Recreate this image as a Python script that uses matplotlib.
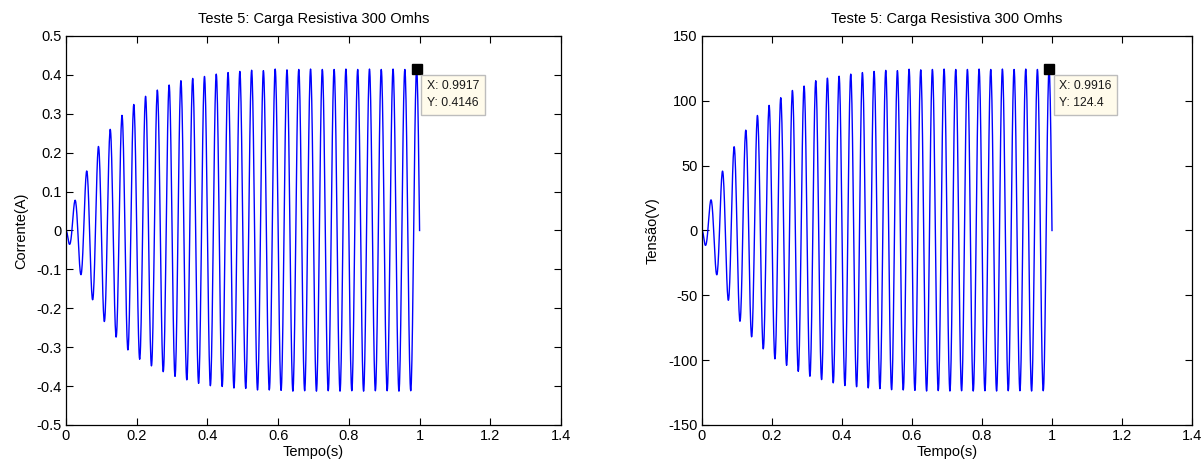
import numpy as np
import matplotlib
matplotlib.use("Agg")
import matplotlib.pyplot as plt

plt.rcParams['font.family'] = ['Liberation Sans', 'DejaVu Sans']

# Sampling of the acquisition (30 Hz waveform, 1200 samples/s)
fs = 1200.0
freq = 30.0
t_end = 1.0

# Half-cycle extrema of the current (A): troughs at (4j+1)/120 s, peaks at (4j+3)/120 s
current_troughs = [-0.033, -0.113, -0.178, -0.234, -0.274, -0.307, -0.331, -0.348,
                   -0.363, -0.375, -0.384, -0.393, -0.399, -0.401, -0.405, -0.406,
                   -0.410, -0.410, -0.411, -0.413, -0.412, -0.413, -0.412, -0.413,
                   -0.412, -0.413, -0.412, -0.412, -0.413, -0.412]
current_peaks = [0.077, 0.153, 0.216, 0.260, 0.296, 0.324, 0.345, 0.361,
                 0.374, 0.385, 0.391, 0.396, 0.402, 0.406, 0.409, 0.412,
                 0.411, 0.415, 0.413, 0.414, 0.415, 0.414, 0.414, 0.415,
                 0.414, 0.415, 0.414, 0.415, 0.414, 0.4146]

# Half-cycle extrema of the voltage (V)
voltage_troughs = [-10.8, -34.0, -53.8, -70.0, -82.0, -91.3, -99.0, -104.0,
                   -108.6, -112.4, -115.0, -117.5, -119.6, -120.5, -121.4, -122.0,
                   -122.8, -123.0, -123.3, -123.8, -123.5, -123.8, -123.6, -123.8,
                   -123.6, -123.8, -123.6, -123.6, -123.8, -123.6]
voltage_peaks = [23.4, 45.8, 64.6, 77.4, 88.7, 96.5, 102.4, 108.0,
                 111.4, 115.5, 117.5, 119.0, 120.6, 121.8, 122.7, 123.5,
                 123.3, 124.4, 123.9, 124.2, 124.5, 124.2, 124.2, 124.5,
                 124.2, 124.5, 124.2, 124.5, 124.2, 124.4]

# Data tips
tip_current = (0.9917, 0.4146)
tip_voltage = (0.9916, 124.4)

title = "Teste 5: Carga Resistiva 300 Omhs"
xticks = [0, 0.2, 0.4, 0.6, 0.8, 1, 1.2, 1.4]
xtick_labels = ["0", "0.2", "0.4", "0.6", "0.8", "1", "1.2", "1.4"]
current_yticks = [-0.5, -0.4, -0.3, -0.2, -0.1, 0, 0.1, 0.2, 0.3, 0.4, 0.5]
voltage_yticks = [-150, -100, -50, 0, 50, 100, 150]


def waveform(troughs, peaks):
    """Sampled sinusoid whose half-cycle extrema follow the given values."""
    t = np.arange(0, int(round(t_end * fs)) + 1) / fs
    n = len(troughs)
    t_ext = np.empty(2 * n)
    mag = np.empty(2 * n)
    t_ext[0::2] = (4 * np.arange(n) + 1) / (4 * freq)
    t_ext[1::2] = (4 * np.arange(n) + 3) / (4 * freq)
    mag[0::2] = np.abs(troughs)
    mag[1::2] = np.abs(peaks)
    env = np.interp(t, np.concatenate([[0.0], t_ext]), np.concatenate([[0.0], mag]))
    return t, -env * np.sin(2 * np.pi * freq * t)


fig = plt.figure(figsize=(12.03, 4.65), dpi=100)
fig.patch.set_facecolor("white")

ax1 = fig.add_axes([66 / 1203, 1 - 425 / 465, 495 / 1203, 389 / 465])
ax2 = fig.add_axes([702 / 1203, 1 - 425 / 465, 490 / 1203, 389 / 465])

panels = [
    (ax1, current_troughs, current_peaks, tip_current, (-0.5, 0.5), current_yticks,
     "Corrente(A)"),
    (ax2, voltage_troughs, voltage_peaks, tip_voltage, (-150, 150), voltage_yticks,
     "Tensão(V)"),
]

for ax, tr, pk, tip, ylim, yt, ylabel in panels:
    t, y = waveform(tr, pk)
    ax.plot(t, y, color=(0, 0, 1), lw=1.0)
    ax.set_xlim(0, 1.4)
    ax.set_ylim(*ylim)
    ax.set_xticks(xticks)
    ax.set_xticklabels(xtick_labels)
    ax.set_yticks(yt)
    ax.set_yticklabels([f"{v:g}" for v in yt])
    ax.tick_params(direction="in", length=5, width=0.8, top=True, right=True,
                   labelsize=10.5, pad=3, colors="black")
    for s in ax.spines.values():
        s.set_linewidth(0.9)
    ax.set_title(title, fontsize=10.5, pad=9)
    ax.set_xlabel("Tempo(s)", fontsize=10.5, labelpad=1)
    ax.set_ylabel(ylabel, fontsize=10.5, labelpad=6)

    # data tip
    ax.plot([tip[0]], [tip[1]], marker="s", ms=6.5, color="black", zorder=5,
            clip_on=False)
    ax.annotate(f"X: {tip[0]:.4f}\nY: {tip[1]:g}",
                xy=tip, xytext=(10, -11), textcoords="offset pixels",
                ha="left", va="top", fontsize=8.8, linespacing=1.55,
                color="#1a1a1a",
                bbox=dict(boxstyle="square,pad=0.45", fc="#fffbeb", ec="#bdbdbd", lw=1.0),
                zorder=6)

fig.savefig("out.png", dpi=100)
